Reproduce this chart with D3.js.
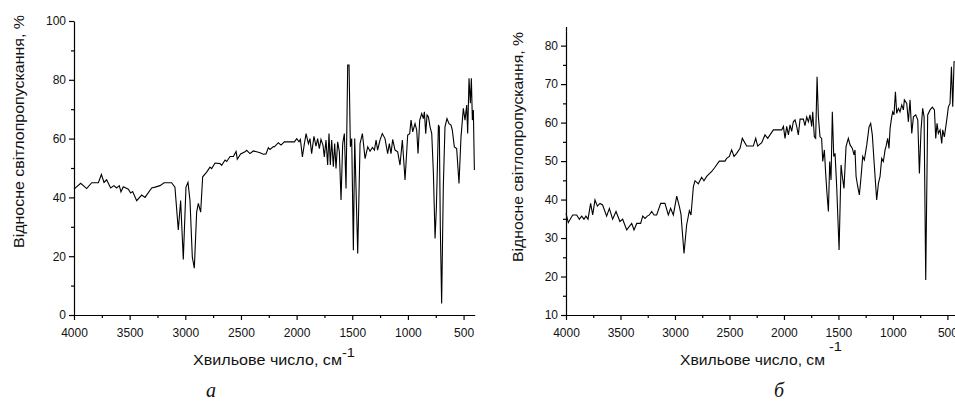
<!DOCTYPE html>
<html>
<head>
<meta charset="utf-8">
<script src="https://cdn.jsdelivr.net/npm/d3@7"></script>
<style>
  body { margin: 0; background: #fff; }
  svg { display: block; font-family: "Liberation Sans", Arial, sans-serif; }
  .axis path, .axis line { stroke: #000; stroke-width: 1.2; }
  .axis text { fill: #111; font-size: 12px; font-family: "Liberation Sans", Arial, sans-serif; }
</style>
</head>
<body>
<div id="chart"></div>
<script>
// spectrum (a): wavenumber, cm-1 / transmittance, %
var waveA = [4000,3940,3886,3841,3781,3754,3730,3707,3671,3641,3617,3593,3578,3557,3512,3491,3473,3437,3392,3362,
  3302,3272,3227,3191,3123,3093,3063,3042,3018,2994,2976,2958,2937,2919,2898,2883,2862,2844,2808,2778,
  2763,2733,2688,2673,2643,2628,2598,2568,2544,2533,2503,2464,2449,2419,2389,2359,2329,2299,2275,2254,
  2239,2209,2200,2164,2140,2110,2020,1999,1978,1966,1948,1930,1915,1894,1880,1865,1844,1826,1811,1796,
  1781,1763,1751,1736,1721,1709,1697,1685,1670,1658,1646,1631,1616,1601,1586,1571,1556,1541,1529,1517,
  1505,1490,1478,1451,1430,1409,1385,1361,1340,1319,1301,1286,1272,1251,1230,1206,1182,1167,1152,1137,
  1116,1092,1071,1050,1026,1002,984,972,957,936,921,909,894,876,861,852,840,828,816,801,
  786,771,756,744,726,718,709,697,682,667,649,631,613,601,583,562,541,523,502,487,
  472,463,451,439,430,421,412,403];
var transA = [42.8,44.8,43,45,45,47.8,45.1,46,43.2,44,43.2,44,41.9,43.6,42.8,41.5,42,38.9,40.8,40,
  43.2,43.5,44,45,45,43.5,28.9,38.9,18.9,43.5,45.1,39,19.7,15.9,35,38,35,47,48.6,50.3,
  49.8,51.7,51.5,50.9,52.7,52.2,53.9,53.9,55.6,53,54.8,55.5,56,54.9,55.8,55.5,55.2,54.7,54.8,56.9,
  56.3,57.3,57.2,58.6,57.8,58.9,58.9,60,58.9,59.7,53.8,58.3,61.7,58.3,60,54.9,60.8,57.4,60,56.6,
  59.7,57.8,53.8,59.5,51,61.7,51,59.5,50.4,58.3,49.8,58.9,55.5,39.1,58.3,61.7,43,85,85,57.2,
  60,22,60,20.9,58.3,61.7,53.2,57.2,55.7,57,56.1,59.5,56.1,59.5,61.7,60,54.9,58.3,54.9,59.7,
  56.1,55.5,51,59.5,45.9,61.2,61.7,66.3,62.3,65.1,62.9,54.9,66.3,68.5,66.8,69.1,61.7,68,67.4,64,
  61.7,48.1,26,36.8,64.6,64,30,3.9,43.6,64,66.8,65.1,64.6,62.9,57.2,56.6,44.7,60.6,70.3,66.3,
  71.4,61.7,80.5,72,80.5,66.3,69.7,49.3];

// spectrum (b)
var waveB = [4000,3979,3939,3902,3878,3856,3835,3817,3798,3774,3755,3734,3712,3688,3664,3627,3602,3572,3541,3505,
  3480,3443,3397,3376,3351,3315,3296,3275,3254,3235,3214,3192,3168,3131,3092,3061,3040,3015,2984,2960,
  2945,2917,2893,2868,2853,2831,2816,2786,2755,2734,2709,2663,2633,2593,2541,2526,2501,2480,2458,2434,
  2403,2382,2342,2281,2259,2241,2204,2174,2149,2128,2097,2021,2005,1990,1975,1959,1944,1929,1914,1898,
  1883,1868,1852,1822,1807,1791,1776,1761,1745,1736,1721,1709,1696,1684,1669,1654,1644,1629,1617,1605,
  1592,1580,1568,1556,1543,1531,1516,1494,1476,1464,1449,1430,1409,1393,1372,1357,1348,1338,1323,1308,
  1292,1277,1262,1240,1219,1204,1189,1170,1149,1133,1118,1103,1088,1072,1063,1048,1036,1026,1011,1002,
  990,977,965,950,935,919,904,895,873,858,843,827,812,791,772,757,742,727,714,699,
  681,659,638,619,607,595,583,567,552,543,528,506,491,476,463,451,439,430];
var transB = [36.4,34,36,36,34.9,35.7,34.9,35.7,34.9,39,36,39.9,38.3,39,38.6,35.7,37.7,34.9,36.9,34.3,
  34.9,32.1,33.8,32.1,33.8,33.8,35.7,35.1,35.7,36,36.9,36,36,39,39,36,37.7,36,40.9,38.2,
  36.2,26,33.4,37.1,36,43.4,44.9,44.1,45.8,44.9,46,47.3,48.4,50,50,50.7,51.2,52.9,51.2,52,
  53.3,55.9,53.9,53.9,55.9,53.9,54.8,56.8,55.9,56.8,58.1,58.1,59,55.9,59,56.8,59.4,57.7,60.2,60.7,
  59,56.8,60.9,60.9,59.2,61.5,60.2,62,59,62.8,56.3,55.9,71.9,61.5,56.3,55.9,49.9,52.9,46.8,41.6,
  36.9,49.9,45.1,62.8,51.2,52,43.4,26.9,49,46,42.9,53.8,55.9,54.2,53.3,51.6,52.9,46,43.4,41.2,
  46,51.2,50.3,54.2,58.9,59.8,56.8,48.6,39.9,44.2,46,50.7,49.9,52.9,53.8,55.9,53.3,58.5,61.5,62.8,
  62,68,62.4,63.7,62.8,64.6,63.3,65.9,65,60.2,65.9,57.2,61.5,62,60.7,46.8,58.1,63.7,61.5,19.1,
  62,63.3,64,63.3,55.9,59.8,57.2,58.1,54.6,58.1,56.3,60.7,64.1,65,74.5,64.1,75.8,75.8];

var xTicks = [4000,3500,3000,2500,2000,1500,1000,500];
var yTicksA = [0,20,40,60,80,100];
var yTicksB = [10,20,30,40,50,60,70,80];
var yTitle = "Відносне світлопропускання, %";
var xTitle = "Хвильове число, см";

var svg = d3.select("#chart").append("svg")
    .attr("width", 955)
    .attr("height", 401);

function drawPanel(o) {
    var x = d3.scaleLinear().domain([4000, 400]).range([o.x0, o.x1]);
    var y = d3.scaleLinear().domain(o.yDomain).range([315, o.yTop]);
    var g = svg.append("g");

    // minor ticks first, then the main axes
    var xMinor = d3.range(3750, 400, -500);
    g.append("g").attr("class", "axis")
        .attr("transform", "translate(0,315)")
        .call(d3.axisBottom(x).tickValues(xMinor).tickSize(3).tickFormat(""))
        .select(".domain").remove();
    g.append("g").attr("class", "axis")
        .attr("transform", "translate(" + o.x0 + ",0)")
        .call(d3.axisLeft(y).tickValues(o.yMinor).tickSize(3).tickFormat(""))
        .select(".domain").remove();

    g.append("g").attr("class", "axis")
        .attr("transform", "translate(0,315)")
        .call(d3.axisBottom(x).tickValues(xTicks).tickSize(5).tickPadding(8)
            .tickSizeOuter(0).tickFormat(d3.format("d")));
    g.append("g").attr("class", "axis")
        .attr("transform", "translate(" + o.x0 + ",0)")
        .call(d3.axisLeft(y).tickValues(o.yTicks).tickSize(5).tickPadding(3)
            .tickSizeOuter(0).tickFormat(d3.format("d")));

    var line = d3.line()
        .x(function(d) { return x(d[0]); })
        .y(function(d) { return y(d[1]); });
    g.append("path")
        .datum(d3.zip(o.wave, o.trans))
        .attr("fill", "none")
        .attr("stroke", "#000")
        .attr("stroke-width", 1.1)
        .attr("d", line);

    // axis titles
    g.append("text")
        .attr("transform", "translate(" + o.yLabX + "," + o.yLabY + ") rotate(-90)")
        .attr("text-anchor", "middle")
        .attr("textLength", o.yLabLen)
        .attr("lengthAdjust", "spacingAndGlyphs")
        .style("font-size", "15px")
        .style("fill", "#111")
        .text(yTitle);

    g.append("text")
        .attr("x", o.xLabX)
        .attr("y", 365)
        .attr("textLength", o.xLabLen)
        .attr("lengthAdjust", "spacingAndGlyphs")
        .style("font-size", "14px")
        .style("fill", "#111")
        .text(xTitle);
    g.append("text")
        .attr("x", o.supX)
        .attr("y", o.supY)
        .attr("textLength", 13)
        .attr("lengthAdjust", "spacingAndGlyphs")
        .style("font-size", "13px")
        .style("fill", "#111")
        .text("-1");

    g.append("text")
        .attr("x", o.capX)
        .attr("y", 397)
        .attr("text-anchor", "middle")
        .style("font-family", "'Liberation Serif', 'Times New Roman', serif")
        .style("font-style", "italic")
        .style("font-size", "20px")
        .style("fill", "#111")
        .text(o.caption);
}

drawPanel({
    x0: 74, x1: 474.7, yDomain: [0, 100], yTop: 21,
    yTicks: yTicksA, yMinor: d3.range(10, 100, 20),
    wave: waveA, trans: transA,
    yLabX: 24, yLabY: 131.5, yLabLen: 233,
    xLabX: 193, xLabLen: 149, supX: 342, supY: 357,
    capX: 211, caption: "а"
});
drawPanel({
    x0: 566, x1: 958.3, yDomain: [10, 85], yTop: 26.4,
    yTicks: yTicksB, yMinor: d3.range(15, 85, 10),
    wave: waveB, trans: transB,
    yLabX: 523, yLabY: 147, yLabLen: 230,
    xLabX: 680, xLabLen: 145, supX: 829, supY: 350.5,
    capX: 779, caption: "б"
});
</script>
</body>
</html>
